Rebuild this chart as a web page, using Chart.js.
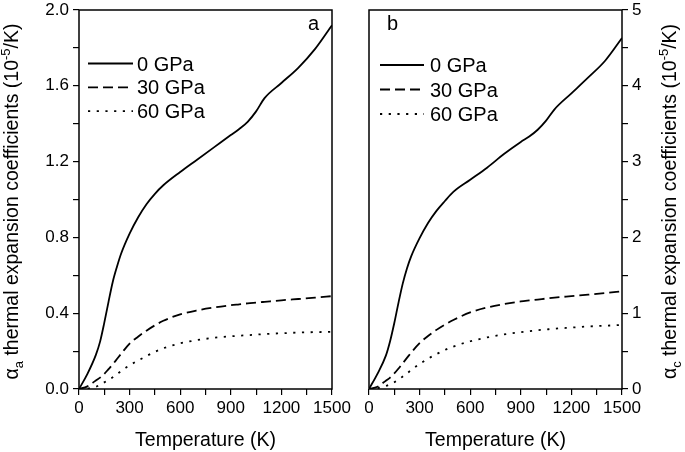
<!DOCTYPE html>
<html>
<head>
<meta charset="utf-8">
<script src="https://cdn.jsdelivr.net/npm/chart.js@4.4.1/dist/chart.umd.min.js"></script>
<style>
  html, body { margin: 0; padding: 0; background: #fff; }
  #wrap { position: relative; width: 685px; height: 452px; }
  #wrap canvas { position: absolute; left: 0; top: 0; }
</style>
</head>
<body>
<div id="wrap">
  <canvas id="chartA" width="685" height="452"></canvas>
  <canvas id="chartC" width="685" height="452"></canvas>
</div>
<script>
// temperature grid (K)
const temps = [0, 50, 100, 125, 150, 175, 200, 225, 250, 300, 350, 400, 450, 500, 600, 700, 800, 900, 950, 1000, 1050, 1100, 1200, 1300, 1400, 1500];

// panel a: alpha_a (10^-5/K)
const alphaA_0 = [0, 0.08, 0.18, 0.25, 0.35, 0.46, 0.565, 0.645, 0.715, 0.82, 0.905, 0.975, 1.03, 1.075, 1.145, 1.21, 1.275, 1.34, 1.372, 1.41, 1.465, 1.535, 1.615, 1.695, 1.795, 1.92];
const alphaA_30 = [0, 0.014, 0.045, 0.06, 0.08, 0.105, 0.13, 0.158, 0.186, 0.24, 0.276, 0.308, 0.336, 0.36, 0.394, 0.415, 0.43, 0.442, 0.447, 0.452, 0.456, 0.46, 0.468, 0.475, 0.482, 0.49];
const alphaA_60 = [0, 0.002, 0.012, 0.022, 0.035, 0.048, 0.062, 0.078, 0.095, 0.125, 0.15, 0.174, 0.196, 0.215, 0.241, 0.258, 0.27, 0.278, 0.281, 0.284, 0.287, 0.29, 0.294, 0.298, 0.30, 0.302];

// panel b: alpha_c (10^-5/K)
const alphaC_0 = [0, 0.20, 0.44, 0.63, 0.87, 1.14, 1.39, 1.59, 1.75, 1.99, 2.19, 2.35, 2.48, 2.60, 2.76, 2.92, 3.10, 3.26, 3.33, 3.42, 3.54, 3.69, 3.90, 4.11, 4.33, 4.63];
const alphaC_30 = [0, 0.03, 0.11, 0.15, 0.205, 0.27, 0.34, 0.41, 0.48, 0.605, 0.70, 0.78, 0.85, 0.91, 1.01, 1.075, 1.12, 1.155, 1.168, 1.18, 1.193, 1.205, 1.225, 1.245, 1.265, 1.29];
const alphaC_60 = [0, 0.01, 0.04, 0.062, 0.09, 0.122, 0.165, 0.205, 0.25, 0.33, 0.40, 0.46, 0.515, 0.56, 0.63, 0.68, 0.72, 0.75, 0.763, 0.775, 0.785, 0.795, 0.81, 0.825, 0.835, 0.845];

const pressures = ['0 GPa', '30 GPa', '60 GPa'];
const xTicks = [0, 300, 600, 900, 1200, 1500];

const FONT = '"Liberation Sans", Arial, sans-serif';
Chart.defaults.font.family = FONT;
Chart.defaults.color = '#000';

const dashes = [[], [10, 5], [2.2, 6.5]];

function makeSets(series) {
  return series.map((vals, i) => ({
    label: pressures[i],
    data: temps.map((t, k) => ({ x: t, y: vals[k] })),
    borderColor: '#000',
    borderWidth: 1.8,
    borderDash: dashes[i],
    borderCapStyle: 'butt',
    pointRadius: 0,
    fill: false,
    cubicInterpolationMode: 'monotone'
  }));
}

function isMul(v, step) {
  const r = v / step;
  return Math.abs(r - Math.round(r)) < 1e-6;
}

function drawYTitle(ctx, x, cy, sub) {
  const big = '19.5px ' + FONT;
  const small = '13px ' + FONT;
  const parts = [
    { t: 'α', f: big, dy: 0 },
    { t: sub, f: small, dy: 5 },
    { t: ' thermal expansion coefficients (10', f: big, dy: 0 },
    { t: '-5', f: small, dy: -8 },
    { t: '/K)', f: big, dy: 0 }
  ];
  let w = 0;
  parts.forEach(p => { ctx.font = p.f; p.w = ctx.measureText(p.t).width; w += p.w; });
  ctx.save();
  ctx.translate(x, cy);
  ctx.rotate(-Math.PI / 2);
  ctx.textAlign = 'left';
  let px = -w / 2;
  parts.forEach(p => { ctx.font = p.f; ctx.fillText(p.t, px, p.dy); px += p.w; });
  ctx.restore();
}

// frame, legend, panel letter and titles
const deco = {
  id: 'deco',
  afterDraw(chart, args, o) {
    const ctx = chart.ctx, a = chart.chartArea;
    ctx.save();
    ctx.strokeStyle = '#000';
    ctx.fillStyle = '#000';
    ctx.lineWidth = 1.5;
    ctx.strokeRect(a.left, a.top, a.right - a.left, a.bottom - a.top);

    ctx.font = '20px ' + FONT;
    chart.data.datasets.forEach((ds, i) => {
      const y = o.legendY + i * o.rowH;
      ctx.setLineDash(ds.borderDash);
      ctx.lineWidth = ds.borderWidth;
      ctx.beginPath();
      ctx.moveTo(o.legendX, y);
      ctx.lineTo(o.legendX + o.lineLen, y);
      ctx.stroke();
      ctx.setLineDash([]);
      ctx.fillText(ds.label, o.textX, y + 7);
    });

    ctx.fillText(o.panel, o.panelX, 30);

    ctx.font = '19.5px ' + FONT;
    ctx.textAlign = 'center';
    ctx.fillText('Temperature (K)', (a.left + a.right) / 2, 446);

    drawYTitle(ctx, o.titleX, (a.top + a.bottom) / 2 + 2, o.sub);
    ctx.restore();
  }
};

function xScale() {
  return {
    type: 'linear', min: 0, max: 1500,
    ticks: {
      stepSize: 150, autoSkip: false, maxRotation: 0, padding: 3,
      font: { size: 17 },
      callback: v => xTicks.includes(v) ? String(v) : ''
    },
    grid: { drawOnChartArea: false, color: '#000', tickLength: 6, lineWidth: 1.2 },
    border: { display: false },
    afterFit: s => { s.height = 63; s.paddingLeft = 0; s.paddingRight = 0; }
  };
}

new Chart(document.getElementById('chartA'), {
  type: 'line',
  data: { datasets: makeSets([alphaA_0, alphaA_30, alphaA_60]) },
  options: {
    responsive: false, animation: false,
    layout: { padding: { top: 10, left: 0, right: 353, bottom: 0 } },
    plugins: {
      legend: { display: false }, tooltip: { enabled: false },
      deco: { legendX: 88, legendY: 63.5, rowH: 23.8, lineLen: 45, textX: 137, panel: 'a', panelX: 308, titleX: 18, sub: 'a' }
    },
    scales: {
      x: xScale(),
      y: {
        min: 0, max: 2,
        ticks: { stepSize: 0.2, padding: 4, font: { size: 17 }, callback: v => isMul(v, 0.4) ? v.toFixed(1) : '' },
        grid: { drawOnChartArea: false, color: '#000', tickLength: 6, lineWidth: 1.2 },
        border: { display: false },
        afterFit: s => { s.width = 79; s.paddingTop = 0; s.paddingBottom = 0; }
      }
    }
  },
  plugins: [deco]
});

new Chart(document.getElementById('chartC'), {
  type: 'line',
  data: { datasets: makeSets([alphaC_0, alphaC_30, alphaC_60]) },
  options: {
    responsive: false, animation: false,
    layout: { padding: { top: 10, left: 369, right: 0, bottom: 0 } },
    plugins: {
      legend: { display: false }, tooltip: { enabled: false },
      deco: { legendX: 380, legendY: 65, rowH: 24.5, lineLen: 44, textX: 430, panel: 'b', panelX: 387, titleX: 676, sub: 'c' }
    },
    scales: {
      x: xScale(),
      y: {
        position: 'right',
        min: 0, max: 5,
        ticks: { stepSize: 0.5, padding: 4, font: { size: 17 }, callback: v => isMul(v, 1) ? String(v) : '' },
        grid: { drawOnChartArea: false, color: '#000', tickLength: 6, lineWidth: 1.2 },
        border: { display: false },
        afterFit: s => { s.width = 63; s.paddingTop = 0; s.paddingBottom = 0; }
      }
    }
  },
  plugins: [deco]
});
</script>
</body>
</html>
